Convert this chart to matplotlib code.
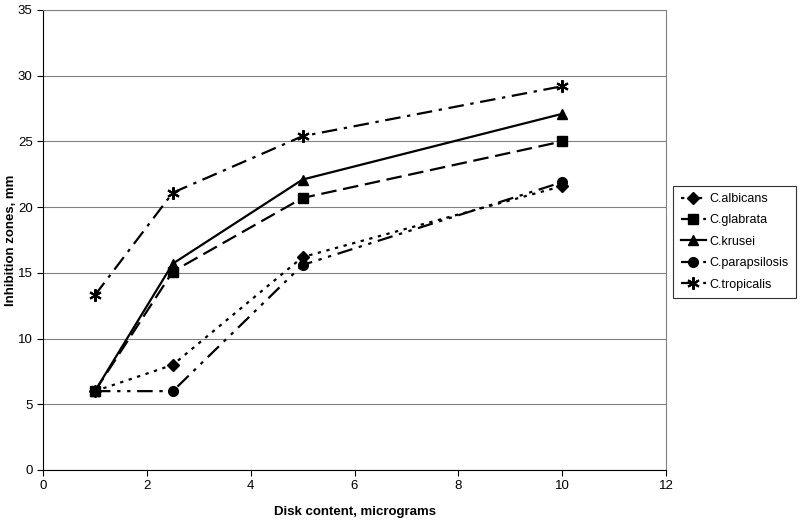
import matplotlib
matplotlib.use("Agg")
import matplotlib.pyplot as plt

plt.rcParams['font.family'] = ['Liberation Sans', 'DejaVu Sans']

disk = [1, 2.5, 5, 10]
albicans = [6, 8, 16.2, 21.6]
glabrata = [6, 15.1, 20.7, 25.0]
krusei = [6, 15.7, 22.1, 27.1]
parapsilosis = [6, 6, 15.6, 21.9]
tropicalis = [13.3, 21.1, 25.4, 29.2]

fig = plt.figure(figsize=(8, 5.28), dpi=100)
ax = fig.add_axes([43 / 800, 58 / 528, 623 / 800, 460 / 528])

ax.plot(disk, albicans, color='black', lw=1.6, ls=(0, (1.5, 2.5)),
        marker='D', ms=6, label='C.albicans')
ax.plot(disk, glabrata, color='black', lw=1.6, ls=(0, (7, 3)),
        marker='s', ms=7, label='C.glabrata')
ax.plot(disk, krusei, color='black', lw=1.6, ls='-',
        marker='^', ms=7, label='C.krusei')
ax.plot(disk, parapsilosis, color='black', lw=1.6, ls=(0, (7, 3, 1.5, 3, 1.5, 3)),
        marker='o', ms=7, label='C.parapsilosis')
ax.plot(disk, tropicalis, color='black', lw=1.6, ls=(0, (7, 3, 1.5, 3)),
        marker=(6, 2, 0), ms=9, mew=1.5, label='C.tropicalis')

ax.set_xlim(0, 12)
ax.set_ylim(0, 35)
ax.set_xticks(range(0, 13, 2))
ax.set_yticks(range(0, 36, 5))
ax.yaxis.grid(True, color='#808080', lw=0.8)
ax.set_axisbelow(True)
for side in ['top', 'right']:
    ax.spines[side].set_color('#808080')
for side in ['left', 'bottom']:
    ax.spines[side].set_color('black')
ax.tick_params(labelsize=9.5, length=4, width=0.8)

ax.set_xlabel('Disk content, micrograms', fontsize=9.5, fontweight='bold', labelpad=10)
ax.set_ylabel('Inhibition zones, mm', fontsize=9.5, fontweight='bold')
ax.yaxis.set_label_coords(-0.042, 0.5)

leg = ax.legend(loc='center left', bbox_to_anchor=(1.008, 0.496), fontsize=9,
                frameon=True, fancybox=False, edgecolor='black',
                handlelength=2.0, handletextpad=0.3, borderpad=0.6,
                labelspacing=0.75, borderaxespad=0.2)
leg.get_frame().set_linewidth(0.8)

fig.savefig('out.png', dpi=100)
